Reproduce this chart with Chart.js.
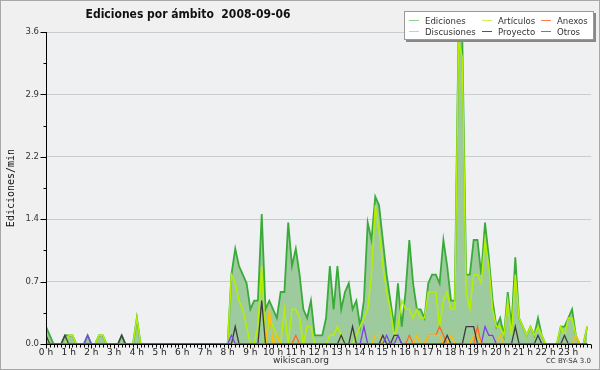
<!DOCTYPE html>
<html>
<head>
<meta charset="utf-8">
<script src="https://cdn.jsdelivr.net/npm/chart.js@4/dist/chart.umd.min.js"></script>
<style>
    body { margin: 0; background: #f0f0f0; }
    #wrap { position: relative; width: 600px; height: 370px; box-sizing: border-box; border: 1px solid #a8a8a8; background: #f0f0f0; font-family: 'DejaVu Sans', sans-serif; overflow: hidden; }
    #chart { position: absolute; left: -1px; top: -1px; }
    #title { position: absolute; left: 0; width: 374px; text-align: center; top: 6px; font-family: 'DejaVu Sans Condensed', 'Liberation Sans Narrow', sans-serif; font-stretch: condensed; font-weight: bold; font-size: 12px; color: #111; white-space: pre; }
    #legend { position: absolute; left: 403px; top: 10px; width: 188px; height: 27px; background: #fff; border: 1px solid #999; box-shadow: 2px 2px 0 #888; }
    #legend .it { position: absolute; font-family: 'DejaVu Sans Condensed', sans-serif; font-stretch: condensed; font-size: 9.5px; color: #333; white-space: nowrap; line-height: 11px; }
    #legend .it i { position: absolute; left: -16px; top: 5px; width: 10px; height: 1px; }
    #site { position: absolute; left: 0; width: 600px; top: 354px; text-align: center; font-size: 9px; color: #333; }
    #lic { position: absolute; right: 8px; top: 356px; font-size: 7px; color: #333; }
</style>
</head>
<body>
<div id="wrap">
    <canvas id="chart" width="600" height="370"></canvas>
    <div id="title">Ediciones por ámbito  2008-09-06</div>
    <div id="legend"></div>
    <div id="site">wikiscan.org</div>
    <div id="lic">CC BY-SA 3.0</div>
</div>
<script>
// ediciones por minuto, tramos de 10 minutos (144 por día)
const hourLabels = [];
for (let h = 0; h < 24; h++) hourLabels.push(h + ' h');
const yTicks = [0, 0.72, 1.44, 2.16, 2.88, 3.6];

const ediciones = [
    0.2, 0.1, 0, 0, 0, 0.1,
    0.1, 0.1, 0, 0, 0, 0.1,
    0, 0, 0.1, 0.1, 0, 0,
    0, 0, 0.1, 0, 0, 0,
    0.3, 0, 0, 0, 0, 0,
    0, 0, 0, 0, 0, 0,
    0, 0, 0, 0, 0, 0,
    0, 0, 0, 0, 0, 0,
    0, 0.8, 1.1, 0.9, 0.8, 0.7,
    0.4, 0.5, 0.5, 1.5, 0.4, 0.5,
    0.4, 0.3, 0.6, 0.6, 1.4, 0.9,
    1.1, 0.8, 0.4, 0.3, 0.5, 0.1,
    0.1, 0.1, 0.3, 0.9, 0.4, 0.9,
    0.4, 0.6, 0.7, 0.4, 0.5, 0.2,
    0.5, 1.4, 1.2, 1.7, 1.6, 1.2,
    0.8, 0.5, 0.2, 0.7, 0.2, 0.6,
    1.2, 0.7, 0.4, 0.4, 0.3, 0.7,
    0.8, 0.8, 0.7, 1.2, 0.9, 0.5,
    0.5, 3.6, 3.5, 0.8, 0.8, 1.2,
    1.2, 0.8, 1.4, 1.0, 0.5, 0.2,
    0.3, 0.1, 0.6, 0.2, 1.0, 0.3,
    0.2, 0.1, 0.2, 0.1, 0.3, 0.1,
    0, 0, 0, 0, 0.2, 0.2,
    0.3, 0.4, 0.1, 0, 0, 0.2
];
const articulos = [
    0.1, 0, 0, 0, 0, 0,
    0.1, 0.1, 0, 0, 0, 0,
    0, 0, 0.1, 0.1, 0, 0,
    0, 0, 0, 0, 0, 0,
    0.3, 0, 0, 0, 0, 0,
    0, 0, 0, 0, 0, 0,
    0, 0, 0, 0, 0, 0,
    0, 0, 0, 0, 0, 0,
    0, 0.8, 0.7, 0.5, 0.4, 0.2,
    0, 0, 0.2, 0.9, 0, 0.3,
    0.2, 0.1, 0, 0.4, 0, 0.4,
    0.4, 0.3, 0, 0.2, 0.2, 0,
    0, 0, 0, 0.1, 0.1, 0.2,
    0.1, 0, 0, 0, 0.1, 0.2,
    0.3, 0.4, 0.8, 1.6, 1.3, 0.9,
    0.6, 0.4, 0.1, 0.2, 0.5, 0.4,
    0.4, 0.3, 0.4, 0.3, 0.3, 0.6,
    0.6, 0.6, 0.2, 0.5, 0.6, 0.4,
    0.4, 3.5, 3.3, 0.6, 0.4, 0.8,
    0.8, 0.7, 1.2, 0.9, 0.4, 0.2,
    0.2, 0.1, 0.5, 0.1, 0.8, 0.3,
    0.2, 0.1, 0.2, 0.1, 0.2, 0.1,
    0, 0, 0, 0, 0.2, 0.1,
    0.3, 0.3, 0.1, 0, 0, 0.2
];
// series pequeñas: casi todo cero, solo se anotan los tramos con valor
const anexosAt = { 66: 0.1, 96: 0.1, 101: 0.1, 102: 0.1, 103: 0.1, 104: 0.2, 105: 0.1, 114: 0.2 };
const discusionesAt = { 59: 0.4, 61: 0.1, 87: 0.1, 88: 0.1, 98: 0.1, 101: 0.1, 102: 0.1, 103: 0.1, 104: 0.1, 107: 0.1, 113: 0.1, 114: 0.1, 120: 0.1, 140: 0.1 };
const proyectoAt = { 0: 0.1, 5: 0.1, 20: 0.1, 50: 0.2, 57: 0.5, 78: 0.1, 81: 0.2, 89: 0.1, 92: 0.1, 93: 0.1, 106: 0.1, 111: 0.2, 112: 0.2, 113: 0.2, 124: 0.2, 130: 0.1, 137: 0.1 };
const otrosAt = { 11: 0.1, 49: 0.1, 84: 0.2, 90: 0.1, 93: 0.1, 116: 0.2, 117: 0.1, 118: 0.1 };

function fromSparse(obj) {
    const out = new Array(144).fill(0);
    Object.keys(obj).forEach(k => out[+k] = obj[k]);
    return out;
}
const anexos = fromSparse(anexosAt);
const discusiones = fromSparse(discusionesAt);
const proyecto = fromSparse(proyectoAt);
const otros = fromSparse(otrosAt);

const pts = arr => arr.map((v, i) => ({ x: i, y: v }));

// legend order in the box: columns of two
const legendItems = [
    { name: 'Ediciones', color: '#8fd08f', left: 20, top: 3 },
    { name: 'Discusiones', color: '#ffcc44', left: 20, top: 14 },
    { name: 'Artículos', color: '#ccee66', left: 93, top: 3 },
    { name: 'Proyecto', color: '#555555', left: 93, top: 14 },
    { name: 'Anexos', color: '#ff7f50', left: 152, top: 3 },
    { name: 'Otros', color: '#9955ee', left: 152, top: 14 }
];
const legendBox = document.getElementById('legend');
legendBox.innerHTML = legendItems.map(it =>
    `<div class="it" style="left:${it.left}px;top:${it.top}px"><i style="background:${it.color}"></i>${it.name}</div>`
).join('');

const decor = {
    id: 'decor',
    beforeDraw(chart) {
        const { ctx, chartArea: a } = chart;
        ctx.save();
        ctx.fillStyle = '#eef0f2';
        ctx.fillRect(a.left, a.top, a.right - a.left, a.bottom - a.top);
        ctx.restore();
    },
    afterDatasetsDraw(chart) {
        const { ctx, chartArea: a, scales: { x, y } } = chart;
        ctx.save();
        ctx.strokeStyle = '#000';
        ctx.lineWidth = 1;
        ctx.beginPath();
        const ax = Math.round(a.left) + 0.5, ay = Math.round(a.bottom) + 0.5;
        ctx.moveTo(ax, a.top); ctx.lineTo(ax, ay);
        ctx.moveTo(ax, ay); ctx.lineTo(a.right, ay);
        // marks every 10 min
        for (let i = 0; i <= 144; i++) {
            const px = Math.round(x.getPixelForValue(i)) + 0.5;
            ctx.moveTo(px, ay); ctx.lineTo(px, ay + (i % 6 === 0 ? 4 : 3));
        }
        // y marks, long at labels, short between
        for (let k = 0; k < yTicks.length; k++) {
            const py = Math.round(y.getPixelForValue(yTicks[k])) + 0.5;
            ctx.moveTo(ax - 6, py); ctx.lineTo(ax, py);
            if (k > 0) {
                const pm = Math.round(y.getPixelForValue((yTicks[k] + yTicks[k - 1]) / 2)) + 0.5;
                ctx.moveTo(ax - 3, pm); ctx.lineTo(ax, pm);
            }
        }
        ctx.stroke();
        ctx.restore();
    }
};

new Chart(document.getElementById('chart'), {
    type: 'line',
    data: {
        datasets: [
            { label: 'Otros', data: pts(otros), borderColor: '#7f3fef', borderWidth: 1.3 },
            { label: 'Proyecto', data: pts(proyecto), borderColor: '#3c3c3c', borderWidth: 1.3 },
            { label: 'Discusiones', data: pts(discusiones), borderColor: '#ffbf00', borderWidth: 1.3 },
            { label: 'Anexos', data: pts(anexos), borderColor: '#ff6a20', borderWidth: 1.3 },
            { label: 'Artículos', data: pts(articulos), borderColor: '#b4f000', borderWidth: 1.5 },
            { label: 'Ediciones', data: pts(ediciones), borderColor: '#3aaa3a', backgroundColor: '#9ecb9e', fill: 'origin', borderWidth: 1.8 }
        ]
    },
    options: {
        responsive: false,
        animation: false,
        layout: { padding: { top: 32, right: 9, left: 0, bottom: 0 } },
        elements: { point: { radius: 0 }, line: { tension: 0 } },
        plugins: { legend: { display: false }, title: { display: false }, tooltip: { enabled: false } },
        scales: {
            x: {
                type: 'linear', min: 0, max: 144,
                grid: { display: false, drawTicks: false },
                border: { display: false },
                afterBuildTicks: s => { s.ticks = hourLabels.map((_, k) => ({ value: k * 6 })); },
                ticks: {
                    autoSkip: false, maxRotation: 0, padding: 3, color: '#222',
                    font: { family: 'DejaVu Sans', size: 9 },
                    callback: (v, i) => hourLabels[i]
                },
                afterFit: s => { s.height = 26; }
            },
            y: {
                min: 0, max: 3.6,
                afterBuildTicks: s => { s.ticks = yTicks.map(v => ({ value: v })); },
                grid: { color: '#cccccc', drawTicks: false },
                border: { display: false },
                ticks: {
                    padding: 7, color: '#333',
                    font: { family: 'DejaVu Sans', size: 8.5 },
                    callback: v => v.toFixed(1)
                },
                title: { display: true, text: 'Ediciones/min', color: '#111', font: { family: 'DejaVu Sans Mono', size: 10 }, padding: { top: 5, bottom: 0 } },
                afterFit: s => { s.width = 46; }
            }
        }
    },
    plugins: [decor]
});
</script>
</body>
</html>
